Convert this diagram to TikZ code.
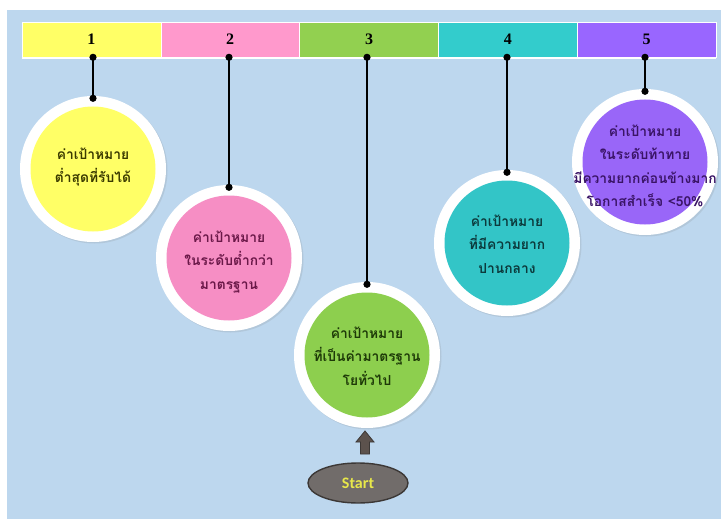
\documentclass[tikz,border=0pt]{standalone}
\usepackage{fontspec}
\newfontfamily\thaifont[Script=Thai]{Loma}
\newfontfamily\startfont{Carlito}
\newfontfamily\numfont{Liberation Serif}
\usetikzlibrary{shapes.geometric,shadows,arrows.meta,calc}
\definecolor{bgblue}{HTML}{BDD7EE}
\definecolor{segyellow}{HTML}{FFFF66}
\definecolor{segpink}{HTML}{FF99CC}
\definecolor{seggreen}{HTML}{92D050}
\definecolor{segteal}{HTML}{33CCCC}
\definecolor{segpurple}{HTML}{9966FF}
\definecolor{cyellow}{HTML}{FFFF66}
\definecolor{cpink}{HTML}{F68EC4}
\definecolor{cgreen}{HTML}{8DCF4E}
\definecolor{cteal}{HTML}{33C5C7}
\definecolor{cpurple}{HTML}{9966F8}
\definecolor{tyellow}{HTML}{3A3A00}
\definecolor{tpink}{HTML}{6A1848}
\definecolor{tgreen}{HTML}{1E3A08}
\definecolor{tteal}{HTML}{0C3A3C}
\definecolor{tpurple}{HTML}{3A1466}
\definecolor{startgray}{HTML}{716C6A}
\definecolor{startline}{HTML}{3C3836}
\definecolor{startyellow}{HTML}{E8E84A}
\definecolor{arrowfill}{HTML}{5C524D}
\begin{document}
\begin{tikzpicture}[x=1pt,y=-1pt,
  segbox/.style={rectangle,draw=white,line width=0.6pt,minimum width=138.8pt,minimum height=35pt,inner sep=0pt,
    font=\numfont\bfseries\fontsize{16}{16}\selectfont},
  ring/.style={circle,fill=white,minimum size=146pt,inner sep=0pt,
    drop shadow={opacity=0.18,shadow xshift=1.5pt,shadow yshift=-1.5pt}},
  disc/.style={circle,minimum size=125pt,inner sep=0pt},
  txt/.style={align=center,inner sep=0pt,font=\thaifont\bfseries\fontsize{13.8}{23.5}\selectfont},
  conn/.style={line width=2.4pt,black,{Circle[length=7pt]}-{Circle[length=7pt]},shorten <=-3.5pt,shorten >=-6pt},
  startnode/.style={ellipse,fill=startgray,draw=startline,line width=1.4pt,minimum width=100pt,minimum height=40pt,
    inner sep=0pt,text=startyellow,font=\startfont\bfseries\fontsize{16}{16}\selectfont}
]
\useasboundingbox (0,0) rectangle (721,519);
\fill[white] (0,0) rectangle (721,519);
\fill[bgblue] (7,10) rectangle (721,519);
\draw[white,line width=1.5pt] (22,58.5) -- (716,58.5);
% bar
\node[segbox,fill=segyellow] (s1) at (91.4,39.5) {1};
\node[segbox,fill=segpink] (s2) at (230.2,39.5) {2};
\node[segbox,fill=seggreen] (s3) at (369,39.5) {3};
\node[segbox,fill=segteal] (s4) at (507.8,39.5) {4};
\node[segbox,fill=segpurple] (s5) at (646.6,39.5) {5};
% circles
\node[ring] (c1) at (93,169) {};
\node[ring] (c2) at (229,258) {};
\node[ring] (c3) at (367,355) {};
\node[ring] (c4) at (507,243) {};
\node[ring] (c5) at (645,162) {};
\node[disc,fill=cyellow] (k1) at (c1) {};
\node[disc,fill=cpink] (k2) at (c2) {};
\node[disc,fill=cgreen] (k3) at (c3) {};
\node[disc,fill=cteal] (k4) at (c4) {};
\node[disc,fill=cpurple] (k5) at (c5) {};
\node[txt,text=tyellow] (l1) at ($(k1)+(0,-2)$) {ค่าเป้าหมาย\\ต่ำสุดที่รับได้};
\node[txt,text=tpink] (l2) at ($(k2)+(0,4)$) {ค่าเป้าหมาย\\ในระดับต่ำกว่า\\มาตรฐาน};
\node[txt,text=tgreen] (l3) at ($(k3)+(0,1)$) {ค่าเป้าหมาย\\ที่เป็นค่ามาตรฐาน\\โยทั่วไป};
\node[txt,text=tteal] (l4) at ($(k4)+(0,1)$) {ค่าเป้าหมาย\\ที่มีความยาก\\ปานกลาง};
\node[txt,text=tpurple] (l5) at ($(k5)+(0,4)$) {ค่าเป้าหมาย\\ในระดับท้าทาย\\มีความยากค่อนข้างมาก\\โอกาสสำเร็จ <50\%};
% connectors
\draw[conn] (s1.south -| c1) -- (c1.north);
\draw[conn] (s2.south -| c2) -- (c2.north);
\draw[conn] (s3.south -| c3) -- (c3.north);
\draw[conn] (s4.south -| c4) -- (c4.north);
\draw[conn] (s5.south -| c5) -- (c5.north);
% start
\node[startnode] (st) at (358,483) {Start};
\coordinate (ab) at (365,454);
\draw[fill=arrowfill,draw=startline,line width=0.8pt,line join=miter]
  ($(ab)+(-4.5,0)$) -- ($(ab)+(-4.5,-12)$) -- ($(ab)+(-9,-12)$) -- ($(ab)+(0,-23)$)
  -- ($(ab)+(9,-12)$) -- ($(ab)+(4.5,-12)$) -- ($(ab)+(4.5,0)$) -- cycle;
\end{tikzpicture}
\end{document}
